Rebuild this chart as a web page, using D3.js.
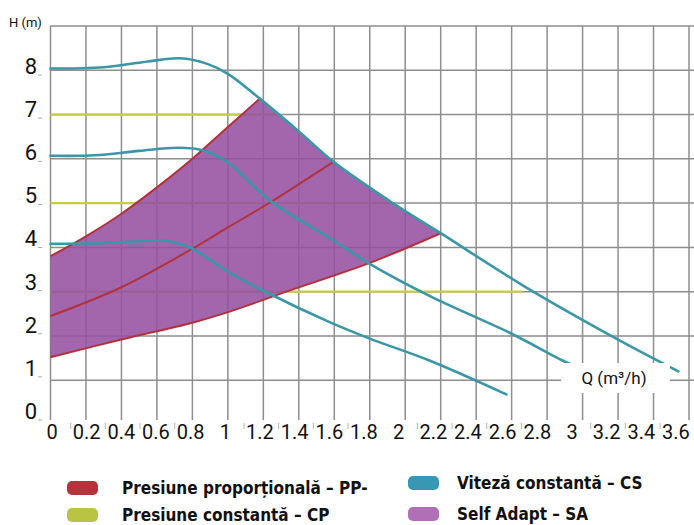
<!doctype html>
<html lang="ro">
<head>
<meta charset="UTF-8">
<title>Curbe pompă</title>
<style>
  body { margin: 0; background: #fff; }
  svg { display: block; }
  text { font-family: Roboto, "Liberation Sans", sans-serif; fill: #111; }
  .legend text { font-family: "Liberation Sans Narrow", "DejaVu Sans Condensed", Roboto, sans-serif; font-weight: bold; font-size: 17px; }
</style>
</head>
<body>
<svg></svg>
<script src="https://d3js.org/d3.v7.min.js"></script>
<script>
const width = 694;
const height = 525;

// axis ticks
const qTicks = [0, 0.2, 0.4, 0.6, 0.8, 1, 1.2, 1.4, 1.6, 1.8, 2, 2.2, 2.4, 2.6, 2.8, 3, 3.2, 3.4, 3.6];
const qLabels = ["0", "0.2", "0.4", "0.6", "0.8", "1", "1.2", "1.4", "1.6", "1.8", "2", "2.2", "2.4", "2.6", "2.8", "3", "3.2", "3.4", "3.6"];
const hTicks = [0, 1, 2, 3, 4, 5, 6, 7, 8];

// viteza constanta (CS), [Q, H]
const csHigh = [[0, 8.04], [0.3, 8.07], [0.55, 8.2], [0.73, 8.27], [0.88, 8.15], [1.0, 7.92], [1.18, 7.36],
  [1.4, 6.62], [1.6, 5.92], [1.93, 5.0], [2.2, 4.32], [2.66, 3.15], [3.19, 1.94], [3.54, 1.2]];
const csMid = [[0, 6.07], [0.25, 6.08], [0.5, 6.18], [0.72, 6.25], [0.85, 6.2], [1.0, 5.92], [1.24, 5.05],
  [1.6, 4.15], [1.8, 3.63], [2.14, 2.9], [2.6, 2.05], [2.89, 1.44], [3.0, 1.25]];
const csLow = [[0, 4.08], [0.3, 4.1], [0.55, 4.15], [0.66, 4.15], [0.8, 3.97], [1.01, 3.43], [1.2, 3.02],
  [1.58, 2.3], [1.8, 1.94], [2.14, 1.44], [2.57, 0.68]];

// presiune proportionala (PP)
const ppHigh = [[0, 3.8], [0.2, 4.25], [0.4, 4.76], [0.64, 5.48], [0.8, 6.0], [1.0, 6.72], [1.18, 7.36]];
const ppMid = [[0, 2.45], [0.4, 3.1], [0.8, 3.97], [1.0, 4.45], [1.24, 5.02], [1.59, 5.92]];
const ppLow = [[0, 1.52], [0.4, 1.92], [0.8, 2.3], [1.01, 2.55], [1.33, 3.0], [1.8, 3.65], [2.2, 4.32]];

// presiune constanta (CP): nivel si debitul unde se opreste
const cpLevels = [7, 5, 3];
const cpEnds = [1.28, 1.93, 2.66];

const legendNames = ["Presiune proporțională – PP-", "Presiune constantă – CP", "Viteză constantă – CS", "Self Adapt – SA"];
const legendColors = ["#b5343b", "#b9c442", "#3898b3", "#b06fb6"];

const svg = d3.select("svg").attr("width", width).attr("height", height);

const x = d3.scaleLinear().domain([0, 3.6]).range([50.5, 689]);
const y = d3.scaleLinear().domain([0, 9]).range([424.5, 26]);
// labels are placed a bit off the grid in the original
const xLab = d3.scaleLinear().domain([0, 3.6]).range([52, 676]);
const yLab = d3.scaleLinear().domain([0, 8]).range([411, 66]);

const line = d3.line()
  .x(d => x(d[0]))
  .y(d => y(d[1]))
  .curve(d3.curveCatmullRom.alpha(0.5));

// grid
const grid = svg.append("g").attr("stroke", "#8e8e8e").attr("stroke-width", 1.5);
grid.selectAll(".v").data(qTicks).join("line")
  .attr("class", "v")
  .attr("x1", d => x(d)).attr("x2", d => x(d))
  .attr("y1", y(9)).attr("y2", 420);
grid.selectAll(".h").data(hTicks.slice(1).concat([9])).join("line")
  .attr("class", "h")
  .attr("x1", x(0)).attr("x2", width)
  .attr("y1", d => y(d)).attr("y2", d => y(d));

// constant pressure lines (under the fill)
svg.append("g").selectAll("line").data(cpLevels).join("line")
  .attr("x1", x(0)).attr("x2", (d, i) => x(cpEnds[i]))
  .attr("y1", d => y(d)).attr("y2", d => y(d))
  .attr("stroke", "#c6cd45").attr("stroke-width", 2.2);

// self adapt area: top PP curve, CS curve down to 2.2, lower PP curve back
const csPart = csHigh.filter(d => d[0] >= 1.18 && d[0] <= 2.2);
const areaD = line(ppHigh) + line(csPart).replace(/^M/, "L") +
  line(ppLow.slice().reverse()).replace(/^M/, "L") + "Z";
svg.append("path")
  .attr("d", areaD)
  .attr("fill", "#9650a0")
  .attr("fill-opacity", 0.88);

// PP lines
svg.append("g").selectAll("path").data([ppHigh, ppMid, ppLow]).join("path")
  .attr("d", line)
  .attr("fill", "none")
  .attr("stroke", "#b2323c")
  .attr("stroke-width", 2);

// CS lines
svg.append("g").selectAll("path").data([csHigh, csMid, csLow]).join("path")
  .attr("d", line)
  .attr("fill", "none")
  .attr("stroke", "#3a97a7")
  .attr("stroke-width", 2.6)
  .attr("stroke-linecap", "round");

// Q label box
svg.append("rect")
  .attr("x", 561).attr("y", 363).attr("width", 109).attr("height", 30)
  .attr("fill", "#fff");
svg.append("text")
  .attr("x", 614).attr("y", 384)
  .attr("text-anchor", "middle")
  .style("font-size", "17px")
  .text("Q (m³/h)");

// axis labels
svg.append("text")
  .attr("x", 9).attr("y", 27)
  .style("font-size", "13px")
  .text("H (m)");

svg.append("g").selectAll("text").data(hTicks).join("text")
  .attr("x", 37)
  .attr("y", d => yLab(d))
  .attr("dy", "0.36em")
  .attr("text-anchor", "end")
  .style("font-size", "22px")
  .text(d => d);
svg.append("g").selectAll("line").data(hTicks).join("line")
  .attr("x1", 38).attr("x2", 42)
  .attr("y1", d => yLab(d) + 9).attr("y2", d => yLab(d) + 9)
  .attr("stroke", "#aaa").attr("stroke-width", 1);

svg.append("g").selectAll("text").data(qTicks).join("text")
  .attr("x", d => xLab(d))
  .attr("y", 432)
  .attr("dy", "0.36em")
  .attr("text-anchor", "middle")
  .style("font-size", "20px")
  .text((d, i) => qLabels[i]);
// little marks in front of the decimal labels
svg.append("g").selectAll("line").data(qTicks.filter(d => d % 1 !== 0)).join("line")
  .attr("x1", d => xLab(d) - 16).attr("x2", d => xLab(d) - 16)
  .attr("y1", 423).attr("y2", 429)
  .attr("stroke", "#b5b5b5").attr("stroke-width", 1);

// legend
const legendPos = [[67, 488], [67, 515], [408, 483], [408, 514]];
const legend = svg.append("g").attr("class", "legend");
const item = legend.selectAll("g").data(legendNames).join("g")
  .attr("transform", (d, i) => "translate(" + legendPos[i][0] + "," + legendPos[i][1] + ")");
item.append("rect")
  .attr("x", 0).attr("y", -7).attr("width", 31).attr("height", 14)
  .attr("rx", 5)
  .attr("fill", (d, i) => legendColors[i]);
item.append("text")
  .attr("x", (d, i) => i < 2 ? 55 : 49)
  .attr("dy", "0.36em")
  .text(d => d);
</script>
</body>
</html>
